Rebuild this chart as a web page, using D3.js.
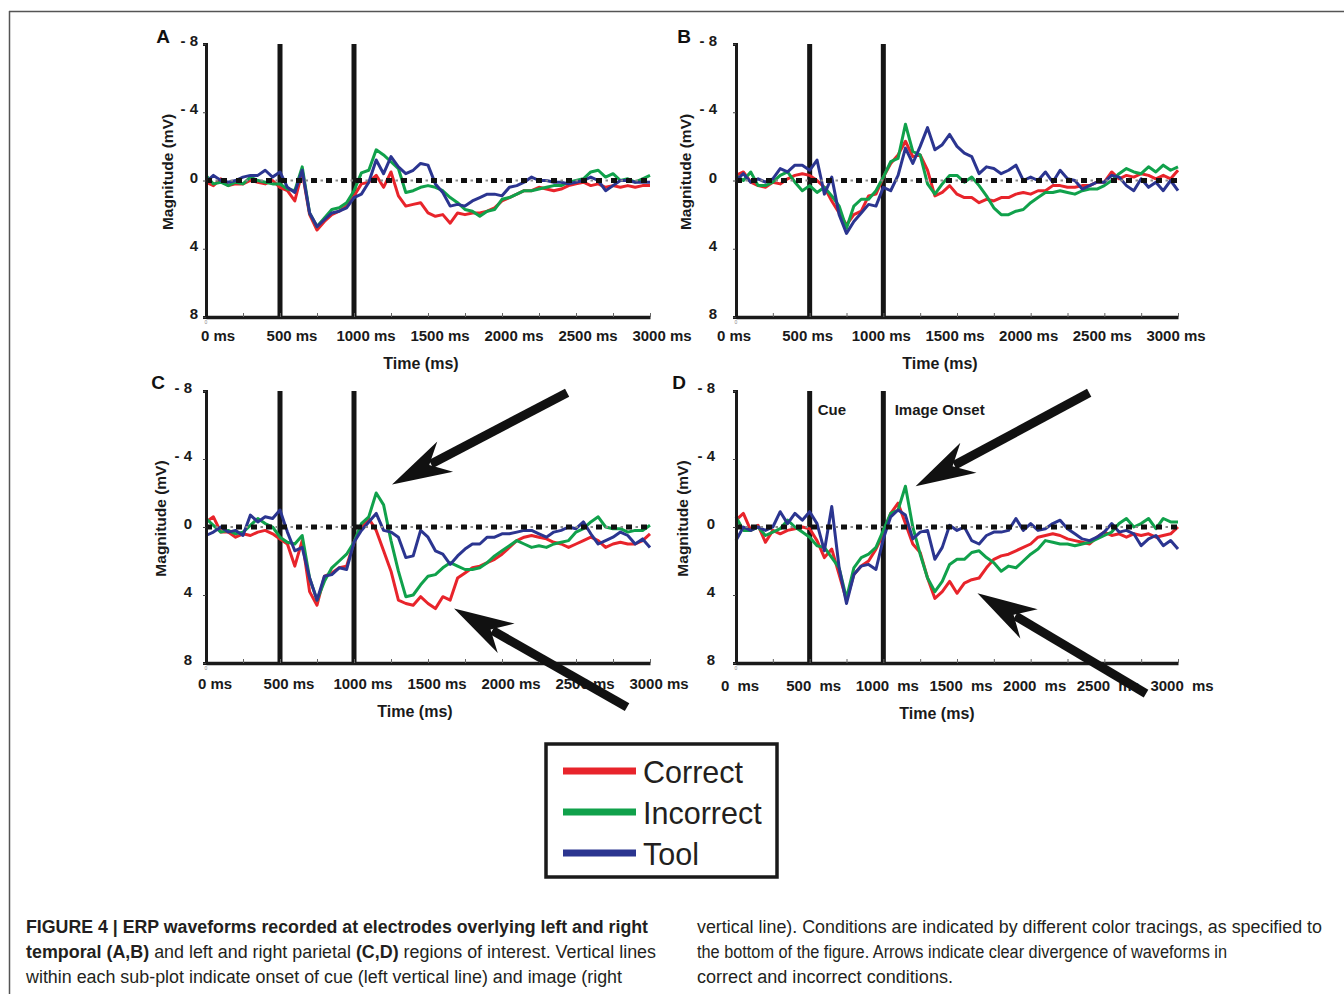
<!DOCTYPE html>
<html>
<head>
<meta charset="utf-8">
<script src="https://cdn.jsdelivr.net/npm/d3@7/dist/d3.min.js"></script>
<style>
  body { margin: 0; background: #fff; }
  svg text { font-family: "Liberation Sans", Arial, sans-serif; }
</style>
</head>
<body>
<svg id="fig" width="1344" height="994"></svg>
<script>
// ERP waveforms, sampled every 50 ms from 0 to 3000 ms (values in mV, axis inverted: negative up)
const times = d3.range(0, 3001, 50);

const aCorrect   = [0.1,0.3,-0.1,0.3,0.2,0.2,0.0,0.1,0.2,0.0, 0.4,0.6,1.2,-0.5,2.0,2.9,2.4,2.0,1.8,1.5, 0.9,0.2,0.1,-0.3,0.4,-0.5,0.9,1.5,1.4,1.3, 1.9,2.1,2.0,2.5,1.9,2.0,1.9,1.9,1.8,1.6, 1.2,1.0,0.8,0.6,0.6,0.4,0.5,0.6,0.5,0.3, 0.2,0.1,0.3,0.2,0.4,0.3,0.4,0.3,0.4,0.3, 0.3];
const aIncorrect = [-0.3,0.2,0.1,0.3,0.1,0.2,-0.2,0.0,0.1,0.2, 0.2,0.5,0.6,-0.8,1.9,2.7,2.2,1.7,1.6,1.3, 0.6,-0.45,-0.6,-1.8,-1.5,-1.1,-0.7,0.7,0.6,0.4, 0.3,0.4,0.6,1.0,1.3,1.7,1.8,2.1,1.8,1.7, 1.1,1.0,0.8,0.6,0.6,0.5,0.4,0.3,0.3,0.1, 0.0,-0.1,-0.5,-0.6,-0.2,-0.4,0.0,-0.1,0.1,-0.1, -0.3];
const aTool      = [0.1,-0.3,0.0,0.1,0.0,-0.2,-0.3,-0.3,-0.6,-0.2, -0.5,0.4,0.7,-0.6,1.9,2.7,2.3,1.9,1.8,1.6, 1.0,0.8,0.1,-1.2,-0.4,-1.4,-0.8,-0.4,-0.6,-1.0, -0.9,0.2,0.7,1.5,1.4,1.5,1.2,1.0,0.8,0.8, 0.9,0.4,0.3,0.1,-0.2,0.0,0.0,0.1,0.1,0.2, 0.1,0.0,-0.2,0.0,0.6,0.3,0.0,0.0,0.1,0.1, 0.1];

const bCorrect   = [-0.3,-0.5,0.1,0.3,0.4,0.1,0.2,-0.1,-0.3,-0.4, -0.3,0.0,0.4,1.2,1.9,2.6,2.0,1.8,0.9,0.8, -0.2,-1.0,-1.5,-2.3,-1.4,-1.5,-0.6,0.9,0.7,0.3, 0.8,1.0,1.0,1.3,1.1,1.2,1.0,1.0,0.8,0.7, 0.8,0.6,0.6,0.3,0.3,0.4,0.4,0.3,0.3,0.1, 0.1,-0.5,-0.1,-0.3,-0.2,-0.4,-0.3,-0.1,-0.3,-0.1, -0.6];
const bIncorrect = [-0.3,0.0,-0.5,0.3,0.3,0.1,-0.3,-0.5,0.1,0.6, 0.3,0.7,0.4,0.9,1.5,2.8,1.5,1.1,1.1,0.6, -0.2,-1.1,-1.3,-3.3,-1.7,-1.5,0.2,0.8,0.2,-0.3, -0.3,0.1,-0.2,0.3,0.9,1.6,2.0,2.0,1.8,1.7, 1.3,1.0,0.7,0.7,0.6,0.7,0.8,0.6,0.5,0.5, 0.3,0.0,-0.4,-0.7,-0.5,-0.4,-0.8,-0.5,-0.9,-0.6, -0.8];
const bTool      = [0.0,-0.4,0.1,-0.1,0.1,-0.1,-0.7,-0.5,-0.9,-0.9, -0.6,-1.2,0.8,-0.2,2.0,3.1,2.4,1.9,1.4,1.5, 0.4,0.6,-0.3,-1.9,-1.0,-2.0,-3.1,-1.8,-2.1,-2.7, -2.0,-1.6,-1.4,-0.4,-0.8,-0.7,-0.4,-0.6,-0.9,0.0, -0.2,0.0,-0.5,0.1,-0.6,-0.1,0.0,0.5,0.3,0.1, 0.1,-0.3,-0.2,0.3,0.6,-0.1,0.4,0.1,0.6,0.0, 0.6];

const cCorrect   = [-0.3,-0.6,0.3,0.3,0.6,0.4,0.5,0.3,0.2,0.4, 0.7,1.0,2.3,0.8,3.8,4.6,2.9,2.7,2.4,2.3, 0.9,0.0,-0.5,0.2,1.4,2.6,4.3,4.5,4.6,4.1, 4.5,4.8,4.1,4.3,3.0,2.7,2.4,2.3,2.1,1.9, 1.6,1.2,0.8,0.6,0.5,0.6,0.7,0.9,1.0,1.2, 1.0,0.8,0.6,0.8,1.2,1.0,0.9,1.0,1.0,0.8, 0.4];
const cIncorrect = [-0.5,-0.1,0.3,0.2,0.4,0.3,-0.1,-0.5,-0.2,0.0, 0.6,0.9,1.0,0.5,3.0,4.3,3.2,2.4,2.0,1.6, 0.9,-0.2,-0.6,-2.0,-1.3,0.8,2.6,4.1,4.0,3.4, 2.9,2.8,2.4,2.1,2.3,2.5,2.5,2.4,2.1,1.7, 1.4,1.1,0.8,1.0,1.2,1.1,1.2,1.0,0.9,0.8, 0.3,0.1,-0.3,-0.6,0.0,0.1,0.1,0.3,0.2,0.2, -0.1];
const cTool      = [0.5,0.3,0.0,0.3,0.2,0.5,-0.7,-0.3,-0.6,-0.5, -1.0,0.3,1.4,1.2,3.0,4.3,2.9,2.8,2.4,2.5, 0.9,0.2,-0.3,-0.8,0.2,0.3,0.6,1.8,1.7,0.2, 0.6,1.4,1.6,2.2,1.7,1.3,1.0,1.0,0.6,0.6, 0.4,0.4,0.3,0.2,0.2,0.4,0.6,0.3,0.2,0.0, 0.1,-0.3,0.4,1.0,0.8,0.6,0.3,0.5,1.0,0.7, 1.2];

const dCorrect   = [-0.4,-0.8,0.2,-0.1,0.9,0.2,0.4,0.2,0.1,0.0, 0.1,0.8,1.8,1.3,2.8,4.3,2.8,2.3,2.0,1.3, 0.4,-0.8,-1.4,-0.2,1.0,1.5,3.0,4.2,3.8,3.2, 3.9,3.3,3.1,3.0,2.4,1.9,1.7,1.6,1.4,1.2, 1.0,0.6,0.5,0.4,0.5,0.7,0.8,0.9,1.0,0.6, 0.3,0.5,0.4,0.6,0.4,0.5,0.4,0.6,0.5,0.4, 0.0];
const dIncorrect = [-0.6,0.2,0.2,0.0,0.5,0.3,0.1,-0.4,0.0,0.3, 0.6,1.1,1.2,1.8,2.4,4.2,2.4,1.8,1.6,1.2, 0.2,-0.8,-1.0,-2.4,0.0,1.6,3.0,3.8,3.2,2.2, 1.9,1.9,1.5,1.4,1.8,2.1,2.6,2.3,2.4,2.0, 1.6,1.3,0.8,0.9,1.0,1.0,1.1,1.0,0.9,0.7, 0.5,0.3,-0.2,-0.5,0.0,-0.2,-0.5,0.1,-0.5,-0.3, -0.3];
const dTool      = [0.8,0.0,0.2,0.0,0.2,0.0,-0.9,-0.2,-0.8,-0.4, -0.9,-0.2,1.4,-1.2,2.4,4.5,2.8,2.3,2.2,2.5, 0.7,-0.6,-1.0,-0.7,0.7,0.3,0.2,1.9,1.2,-0.1, 0.2,0.0,0.8,1.0,0.5,0.3,0.3,0.2,-0.5,0.2, -0.2,0.2,0.1,-0.2,-0.4,0.1,0.4,0.7,0.8,0.6, 0.3,-0.2,0.3,0.2,0.4,1.1,0.7,0.5,1.1,0.8, 1.3];

const seriesNames  = ["Correct", "Incorrect", "Tool"];
const seriesColors = ["#e8242b", "#10a14b", "#2b3590"];

const xTicks = [0, 500, 1000, 1500, 2000, 2500, 3000];
const xMinorTicks = [250, 500, 750, 1000, 1250, 1500, 1750, 2000, 2250, 2500, 2750, 3000];
const yTicks = [-8, -4, 0, 4, 8];
const yTickLabels = ["- 8", "- 4", "0", "4", "8"];
const eventTimes = [500, 1000];   // cue onset, image onset

// panel layout
const panels = [
  {id: "A", data: [aCorrect, aIncorrect, aTool], x0: 206, x1: 650, y0: 44, y1: 317,
   yPad: 5, xLabDx: 12, xLabY: 341, timeX: 421, timeY: 369, magX: 168, letter: [163, 43]},
  {id: "B", data: [bCorrect, bIncorrect, bTool], x0: 736, x1: 1178, y0: 44, y1: 317,
   yPad: 16, xLabDx: -2, xLabY: 341, timeX: 940, timeY: 369, magX: 686, letter: [684, 43]},
  {id: "C", data: [cCorrect, cIncorrect, cTool], x0: 206, x1: 650, y0: 391, y1: 663,
   yPad: 11, xLabDx: 9, xLabY: 689, timeX: 415, timeY: 717, magX: 161, letter: [158, 389]},
  {id: "D", data: [dCorrect, dIncorrect, dTool], x0: 736, x1: 1178, y0: 391, y1: 663,
   yPad: 18, xLabDx: 4, xLabY: 691, timeX: 937, timeY: 719, magX: 683, letter: [679, 389], wide: true}
];

// arrows given in data units of their panel: [tailTime, tailMag, tipTime, tipMag]
const arrows = {
  C: [[2440, -7.9, 1257, -2.5], [2845, 10.6, 1676, 4.8]],
  D: [[2397, -7.9, 1219, -2.4], [2783, 9.8, 1639, 3.9]]
};
const eventLabels = {D: [["Cue", 555, -6.6], ["Image Onset", 1077, -6.6]]};

const svg = d3.select("#fig");

// figure frame
svg.append("line").attr("x1", 9).attr("x2", 1344).attr("y1", 11.5).attr("y2", 11.5)
   .attr("stroke", "#555").attr("stroke-width", 1.5);
svg.append("line").attr("x1", 9.5).attr("x2", 9.5).attr("y1", 11).attr("y2", 994)
   .attr("stroke", "#555").attr("stroke-width", 1.5);

panels.forEach(p => {
  const x = d3.scaleLinear().domain([0, 3000]).range([p.x0, p.x1]);
  const y = d3.scaleLinear().domain([-8, 8]).range([p.y0, p.y1]);
  const g = svg.append("g");

  // cue / image onset lines
  g.selectAll(".ev").data(eventTimes).enter().append("line")
    .attr("x1", d => x(d)).attr("x2", d => x(d))
    .attr("y1", y(-8)).attr("y2", y(8))
    .attr("stroke", "#151515").attr("stroke-width", 5);

  // waveforms
  const line = d3.line().x((d, i) => x(times[i])).y(d => y(d));
  g.selectAll(".wave").data(p.data).enter().append("path")
    .attr("d", line)
    .attr("fill", "none")
    .attr("stroke", (d, i) => seriesColors[i])
    .attr("stroke-width", 3)
    .attr("stroke-linejoin", "round");

  // zero baseline (dash-dot)
  g.append("line").attr("x1", x(0)).attr("x2", x(3000)).attr("y1", y(0)).attr("y2", y(0))
    .attr("stroke", "#8a8a8a").attr("stroke-width", 1.8)
    .attr("stroke-dasharray", "2.5,12.5").attr("stroke-dashoffset", -9.5);
  g.append("line").attr("x1", x(0)).attr("x2", x(3000)).attr("y1", y(0)).attr("y2", y(0))
    .attr("stroke", "#111").attr("stroke-width", 4.8)
    .attr("stroke-dasharray", "6,9");

  // y axis
  const ya = g.append("g").attr("transform", `translate(${p.x0},0)`)
    .call(d3.axisLeft(y).tickValues(yTicks).tickSize(3).tickPadding(p.yPad)
      .tickFormat((d, i) => yTickLabels[i]));
  ya.select(".domain").attr("stroke", "#1a1a1a").attr("stroke-width", 3);
  ya.selectAll(".tick line").attr("stroke", "#444");
  ya.selectAll("text").attr("fill", "#1a1a1a").attr("font-size", 15).attr("font-weight", "bold")
    .attr("font-family", "Liberation Sans, Arial, sans-serif").attr("dy", "0.1em");

  // x axis minor ticks (inward)
  const xm = g.append("g").attr("transform", `translate(0,${p.y1})`)
    .call(d3.axisBottom(x).tickValues(xMinorTicks).tickSizeInner(-4).tickSizeOuter(0).tickFormat(""));
  xm.select(".domain").attr("stroke", "#1a1a1a").attr("stroke-width", 3.5);
  xm.selectAll(".tick line").attr("stroke", "#666");

  // x tick labels
  g.selectAll(".xl").data(xTicks).enter().append("text")
    .attr("x", d => x(d) + p.xLabDx).attr("y", p.xLabY)
    .attr("text-anchor", "middle")
    .attr("font-size", 15).attr("font-weight", "bold").attr("fill", "#1a1a1a")
    .attr("word-spacing", p.wide ? 4 : 0)
    .text(d => d + " ms");

  // tiny origin mark
  g.append("text").attr("x", p.x0).attr("y", p.y1 + 7).attr("font-size", 5)
    .attr("fill", "#888").attr("text-anchor", "middle").text("0");

  // axis titles
  g.append("text").attr("x", p.timeX).attr("y", p.timeY).attr("text-anchor", "middle")
    .attr("font-size", 16).attr("font-weight", "bold").attr("fill", "#1a1a1a").text("Time (ms)");
  g.append("text")
    .attr("transform", `translate(${p.magX},${y(-0.5)}) rotate(-90)`)
    .attr("text-anchor", "middle").attr("dy", "0.35em")
    .attr("font-size", 15.5).attr("font-weight", "bold").attr("fill", "#1a1a1a").text("Magnitude (mV)");

  // panel letter
  g.append("text").attr("x", p.letter[0]).attr("y", p.letter[1]).attr("text-anchor", "middle")
    .attr("font-size", 19).attr("font-weight", "bold").attr("fill", "#111").text(p.id);

  // event labels
  (eventLabels[p.id] || []).forEach(l => {
    g.append("text").attr("x", x(l[1])).attr("y", y(l[2]))
      .attr("font-size", 15).attr("font-weight", "bold").attr("fill", "#1a1a1a").text(l[0]);
  });

  // arrows
  (arrows[p.id] || []).forEach(a => {
    const tail = [x(a[0]), y(a[1])], tip = [x(a[2]), y(a[3])];
    const dx = tail[0] - tip[0], dy = tail[1] - tip[1];
    const len = Math.hypot(dx, dy);
    const u = [dx / len, dy / len], n = [-u[1], u[0]];
    const pt = (s, w) => [tip[0] + u[0] * s + n[0] * w, tip[1] + u[1] * s + n[1] * w];
    g.append("line")
      .attr("x1", pt(44, 0)[0]).attr("y1", pt(44, 0)[1])
      .attr("x2", tail[0]).attr("y2", tail[1])
      .attr("stroke", "#111").attr("stroke-width", 9);
    g.append("path")
      .attr("d", d3.line()([tip, pt(60, 17), pt(42, 0), pt(60, -17)]) + "Z")
      .attr("fill", "#111");
  });
});

// legend
const lg = svg.append("g");
lg.append("rect").attr("x", 546).attr("y", 744).attr("width", 231).attr("height", 133)
  .attr("fill", "#fff").attr("stroke", "#1a1a1a").attr("stroke-width", 3.5);
const legY = [771, 812, 853];
seriesNames.forEach((name, i) => {
  lg.append("line").attr("x1", 563).attr("x2", 636).attr("y1", legY[i]).attr("y2", legY[i])
    .attr("stroke", seriesColors[i]).attr("stroke-width", 7);
  lg.append("text").attr("x", 643).attr("y", legY[i] + 12)
    .attr("font-family", "Lato, 'Open Sans', sans-serif").attr("font-size", 30.5)
    .attr("fill", "#231f20").text(name);
});

// caption
const capFont = "'Liberation Sans Narrow', 'Arial Narrow', 'Roboto Condensed', 'Liberation Sans', sans-serif";
const captionLeft = [
  [["FIGURE 4 | ERP waveforms recorded at electrodes overlying left and right", true]],
  [["temporal (A,B)", true], [" and left and right parietal ", false], ["(C,D)", true], [" regions of interest. Vertical lines", false]],
  [["within each sub-plot indicate onset of cue (left vertical line) and image (right", false]]
];
const captionRight = [
  [["vertical line). Conditions are indicated by different color tracings, as specified to", false]],
  [["the bottom of the figure. Arrows indicate clear divergence of waveforms in", false]],
  [["correct and incorrect conditions.", false]]
];
const capWidthsLeft = [622, 630, 596];
const capWidthsRight = [625, 530, 256];
const capY = [933, 958, 983];

function caption(lines, x0, widths) {
  lines.forEach((segs, i) => {
    const t = svg.append("text").attr("x", x0).attr("y", capY[i])
      .attr("font-family", capFont).attr("font-size", 18).attr("fill", "#231f20")
      .attr("textLength", widths[i]).attr("lengthAdjust", "spacingAndGlyphs");
    segs.forEach(s => {
      t.append("tspan").attr("font-weight", s[1] ? "bold" : "normal").text(s[0]);
    });
  });
}
caption(captionLeft, 26, capWidthsLeft);
caption(captionRight, 697, capWidthsRight);
</script>
</body>
</html>
